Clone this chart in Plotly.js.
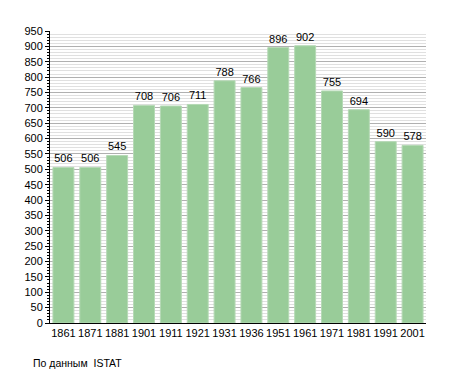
<!DOCTYPE html>
<html><head><meta charset="utf-8">
<script src="https://cdn.plot.ly/plotly-3.0.1.min.js"></script>
<style>body{margin:0;background:#fff}#c{width:455px;height:373px}</style>
</head><body><div id="c"></div>
<script>
const years = ["1861","1871","1881","1901","1911","1921","1931","1936","1951","1961","1971","1981","1991","2001"];
const population = [506,506,545,708,706,711,788,766,896,902,755,694,590,578];
const sourceNote = "По данным  ISTAT";

Plotly.newPlot('c', [{
  type: 'bar', x: years, y: population,
  text: population.map(String), textposition: 'outside', cliponaxis: false,
  textfont: {family: 'Liberation Sans, Arial', size: 11, color: '#000'},
  marker: {color: '#99cc99', line: {color: '#b5d9b5', width: 1}},
  width: 0.78, hoverinfo: 'none'
}], {
  width: 455, height: 373,
  margin: {l: 50, r: 29, t: 31, b: 50},
  paper_bgcolor: '#fff', plot_bgcolor: '#fff',
  font: {family: 'Liberation Sans, Arial', size: 11, color: '#000'},
  showlegend: false,
  bargap: 0.22,
  xaxis: {type: 'category', showline: true, linecolor: '#000', linewidth: 1,
    ticks: '', showgrid: false, tickfont: {size: 11}, fixedrange: true},
  yaxis: {range: [0, 950], dtick: 50, showline: true, linecolor: '#000', linewidth: 1,
    ticks: 'outside', ticklen: 4, tickcolor: '#000', showgrid: true, gridcolor: '#b0b0b0', gridwidth: 1,
    zeroline: false, tickfont: {size: 11},
    minor: {dtick: 10, showgrid: true, gridcolor: '#e0e0e0', gridwidth: 1, ticks: 'outside', ticklen: 2, tickcolor: '#000'}},
  annotations: [{text: sourceNote, xref: 'paper', yref: 'paper', x: -0.05, y: -0.11,
    xanchor: 'left', yanchor: 'top', showarrow: false, font: {size: 10.5}}]
}, {staticPlot: true});
</script></body></html>
